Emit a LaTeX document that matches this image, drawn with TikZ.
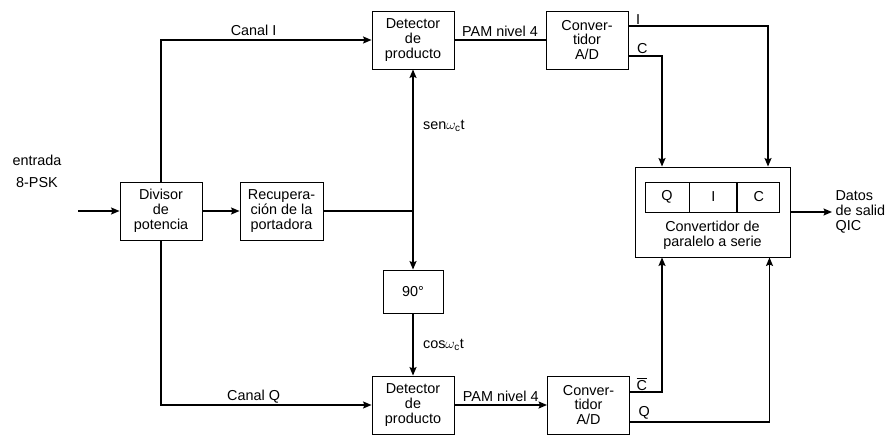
\documentclass[tikz,border=0pt]{standalone}
\usepackage{fontspec}
\setmainfont{Liberation Sans}
\usepackage{tikz}
\usetikzlibrary{calc,positioning,arrows.meta}

\begin{document}
\begin{tikzpicture}[
      x=1pt, y=-1pt,
      every node/.style={font=\fontsize{14.4}{14.8}\selectfont},
      blk/.style={
        draw, line width=0.9pt,
        align=center, inner sep=0pt,
        minimum width=82pt, minimum height=58pt
      },
      cell/.style={draw, line width=0.9pt, inner sep=0pt, minimum height=30pt},
      wire/.style={line width=1.5pt},
      sig/.style={wire, -{Stealth[length=8.5pt,width=7pt,inset=1.5pt]}}
    ]
      \useasboundingbox (0,0) rectangle (890,435);
      % bloques
      \node[blk] (div) at (161,211) {Divisor\\de\\potencia};
      \node[blk, minimum width=83pt] (rec) at (281.5,211) {Recupera-\\ción de la\\portadora};
      \node[blk] (det1) at (413,40) {Detector\\de\\producto};
      \node[blk] (det2) at (413,405) {Detector\\de\\producto};
      \node[blk, minimum width=60pt, minimum height=43pt] (n90) at (413,291.5) {90°};
      \node[blk] (conv1) at (587,40) {Conver-\\tidor\\A/D};
      \node[blk] (conv2) at (588.5,405) {Conver-\\tidor\\A/D};
      \node[draw, line width=0.9pt, minimum width=155pt, minimum height=90pt] (pts) at (712.5,212) {};
      \node[cell, minimum width=44pt] (cq) at (667,197) {Q};
      \node[cell, minimum width=47pt, right=0pt of cq] (ci) {I};
      \node[cell, minimum width=42pt, right=0pt of ci] (cc) {C};
      \node[align=center] (ptstext) at (712.5,235) {Convertidor de\\paralelo a serie};
      % entrada y salida
      \node[align=center] (entrada) at (37,171) {entrada\\[7pt]8-PSK};
      \coordinate (in) at (78,211);
      \node[align=left, anchor=west] (datos) at (832,212) {Datos\\de salid\\QIC};
      \coordinate (jn) at (413,211);

      \draw[sig] (in) -- (div.west);
      \draw[sig] (div) -- (rec);
      \draw[wire] (rec.east) -- (jn);
      \draw[sig] (jn) -- node[right, pos=0.6, xshift=6pt] {sen$\omega_{\mathrm{c}}$t} (det1.south);
      \draw[sig] (jn) -- (n90.north);
      \draw[sig] (n90.south) -- node[right, xshift=6pt] {cos$\omega_{\mathrm{c}}$t} (det2.north);
      \draw[sig] (div.north) |- node[above, pos=0.72] {Canal I} (det1.west);
      \draw[sig] (div.south) |- node[above, pos=0.72, yshift=-2pt] {Canal Q} (det2.west);
      \draw[wire] (det1.east) -- node[above, yshift=-1pt] {PAM nivel 4} (conv1.west);
      \draw[sig] (det2.east) -- node[above, yshift=-1pt] {PAM nivel 4} (conv2.west);
      % salidas de los convertidores
      \draw[sig] ([yshift=14pt]conv1.east) node[above right, inner sep=1pt, xshift=6pt] {I}
        -| ([xshift=55.5pt]pts.north);
      \draw[sig] ([yshift=-16pt]conv1.east) node[above right, inner sep=2pt, xshift=6pt] {C}
        -| ([xshift=-50.5pt]pts.north);
      \draw[sig] ([yshift=13pt]conv2.east) node[above right, inner sep=1pt, xshift=5pt] {$\overline{\mbox{C}}$}
        -| ([xshift=-50.5pt]pts.south);
      \draw[sig] ([yshift=-17pt]conv2.east) node[above right, inner sep=2pt, xshift=6pt] {Q}
        -| ([xshift=57pt]pts.south);
      \draw[sig] (pts.east) -- (datos.west);
    \end{tikzpicture}
\end{document}
